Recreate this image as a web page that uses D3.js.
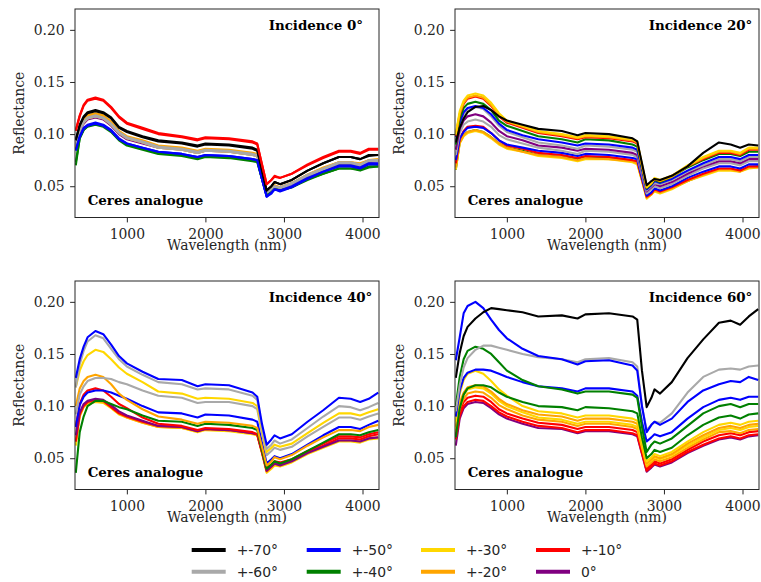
<!DOCTYPE html>
<html>
<head>
<meta charset="utf-8">
<script src="https://cdn.jsdelivr.net/npm/d3@7"></script>
<style>
  html, body { margin: 0; padding: 0; background: #ffffff; }
  svg { display: block; }
</style>
</head>
<body>
<div id="chart"></div>
<script>
// Wavelength grid (nm) shared by every spectrum
const wavelengths = [350, 400, 450, 500, 600, 700, 800, 900, 1000, 1200,
  1400, 1700, 1900, 2000, 2300, 2600, 2660, 2720, 2780, 2840,
  2880, 2950, 3100, 3300, 3500, 3700, 3850, 3970, 4080, 4200];

// Emission angle groups and their colours
const emissionLabels = ["+-70°", "+-60°", "+-50°", "+-40°", "+-30°", "+-20°", "+-10°", "0°"];
const emissionColors = ["#000000", "#a9a9a9", "#0000ff", "#008000", "#ffd700", "#ffa500", "#ff0000", "#800080"];

const panelTitles = ["Incidence 0°", "Incidence 20°", "Incidence 40°", "Incidence 60°"];
const sampleName = "Ceres analogue";
const xTicks = [1000, 2000, 3000, 4000];
const yTicks = [0.05, 0.10, 0.15, 0.20];

// Reflectance spectra, one [emission group, values] entry per curve, in drawing order
const incidence0 = [
  ["0°",    [0.086,0.102,0.110,0.114,0.116,0.114,0.108,0.100,0.095,0.091,0.087,0.085,0.082,0.084,0.083,0.080,0.079,0.060,0.042,0.046,0.049,0.048,0.052,0.060,0.066,0.071,0.071,0.070,0.073,0.074]],
  ["+-30°", [0.088,0.104,0.112,0.116,0.118,0.116,0.110,0.102,0.097,0.093,0.088,0.086,0.083,0.085,0.084,0.081,0.080,0.061,0.042,0.046,0.050,0.048,0.052,0.060,0.067,0.072,0.072,0.071,0.074,0.075]],
  ["+-30°", [0.087,0.103,0.111,0.115,0.117,0.115,0.109,0.101,0.096,0.092,0.087,0.085,0.082,0.084,0.083,0.080,0.079,0.060,0.042,0.046,0.049,0.048,0.052,0.060,0.066,0.071,0.071,0.070,0.074,0.074]],
  ["+-20°", [0.089,0.105,0.114,0.118,0.120,0.118,0.112,0.103,0.098,0.094,0.089,0.087,0.084,0.086,0.085,0.082,0.081,0.062,0.043,0.047,0.051,0.049,0.053,0.061,0.068,0.073,0.073,0.072,0.075,0.076]],
  ["+-20°", [0.088,0.104,0.113,0.117,0.119,0.117,0.111,0.102,0.097,0.093,0.088,0.086,0.083,0.085,0.084,0.081,0.080,0.062,0.043,0.047,0.050,0.049,0.053,0.061,0.067,0.073,0.073,0.071,0.075,0.075]],
  ["+-60°", [0.090,0.104,0.112,0.116,0.118,0.116,0.110,0.102,0.097,0.093,0.088,0.086,0.083,0.085,0.084,0.081,0.080,0.061,0.043,0.047,0.050,0.049,0.053,0.061,0.067,0.073,0.073,0.071,0.075,0.075]],
  ["+-60°", [0.089,0.103,0.111,0.115,0.117,0.115,0.109,0.101,0.096,0.092,0.087,0.085,0.082,0.084,0.083,0.080,0.079,0.061,0.043,0.047,0.050,0.048,0.052,0.060,0.066,0.072,0.072,0.070,0.074,0.074]],
  ["+-40°", [0.070,0.096,0.104,0.108,0.110,0.108,0.103,0.095,0.090,0.086,0.082,0.080,0.077,0.079,0.078,0.075,0.074,0.057,0.041,0.044,0.047,0.046,0.049,0.057,0.062,0.067,0.067,0.066,0.069,0.069]],
  ["+-40°", [0.073,0.096,0.104,0.107,0.109,0.107,0.102,0.094,0.089,0.085,0.081,0.079,0.076,0.078,0.077,0.074,0.073,0.057,0.041,0.044,0.047,0.046,0.049,0.056,0.062,0.067,0.067,0.065,0.068,0.069]],
  ["+-50°", [0.085,0.098,0.106,0.109,0.111,0.109,0.104,0.096,0.091,0.087,0.083,0.081,0.078,0.080,0.079,0.076,0.075,0.057,0.040,0.044,0.047,0.046,0.050,0.058,0.064,0.070,0.070,0.068,0.072,0.072]],
  ["+-50°", [0.084,0.097,0.105,0.108,0.110,0.108,0.103,0.095,0.091,0.087,0.083,0.081,0.078,0.080,0.079,0.076,0.075,0.057,0.040,0.043,0.047,0.045,0.049,0.057,0.064,0.069,0.069,0.067,0.071,0.071]],
  ["+-70°", [0.095,0.109,0.117,0.121,0.123,0.121,0.116,0.107,0.103,0.098,0.094,0.092,0.089,0.091,0.090,0.087,0.085,0.066,0.046,0.050,0.054,0.052,0.056,0.065,0.072,0.078,0.078,0.076,0.080,0.080]],
  ["+-70°", [0.094,0.108,0.116,0.120,0.122,0.120,0.115,0.106,0.102,0.097,0.093,0.091,0.088,0.090,0.089,0.086,0.084,0.065,0.046,0.050,0.054,0.052,0.056,0.065,0.072,0.078,0.078,0.076,0.079,0.080]],
  ["+-10°", [0.104,0.118,0.128,0.133,0.135,0.133,0.126,0.117,0.111,0.106,0.101,0.098,0.095,0.097,0.096,0.093,0.091,0.071,0.052,0.056,0.060,0.058,0.062,0.071,0.078,0.084,0.084,0.082,0.086,0.086]],
  ["+-10°", [0.103,0.117,0.127,0.132,0.134,0.132,0.125,0.116,0.110,0.105,0.100,0.097,0.094,0.096,0.095,0.092,0.090,0.071,0.052,0.056,0.059,0.058,0.062,0.070,0.077,0.083,0.083,0.081,0.085,0.085]]
];

const incidence20 = [
  ["+-40°", [0.066,0.092,0.099,0.102,0.104,0.102,0.097,0.091,0.087,0.084,0.080,0.078,0.076,0.078,0.077,0.074,0.073,0.056,0.040,0.043,0.046,0.045,0.048,0.055,0.061,0.066,0.066,0.065,0.068,0.069]],
  ["+-30°", [0.066,0.091,0.098,0.101,0.103,0.101,0.096,0.090,0.086,0.083,0.079,0.077,0.074,0.076,0.076,0.073,0.071,0.055,0.038,0.042,0.045,0.043,0.047,0.055,0.060,0.065,0.065,0.064,0.067,0.068]],
  ["+-20°", [0.068,0.092,0.099,0.102,0.104,0.102,0.097,0.091,0.087,0.083,0.080,0.078,0.075,0.077,0.076,0.074,0.072,0.056,0.039,0.042,0.046,0.044,0.048,0.055,0.061,0.066,0.066,0.064,0.068,0.068]],
  ["+-10°", [0.072,0.095,0.103,0.107,0.108,0.107,0.101,0.094,0.089,0.086,0.082,0.080,0.077,0.079,0.078,0.075,0.074,0.057,0.040,0.043,0.047,0.045,0.049,0.056,0.062,0.067,0.067,0.065,0.069,0.069]],
  ["+-50°", [0.075,0.096,0.102,0.106,0.107,0.106,0.101,0.094,0.090,0.087,0.084,0.082,0.079,0.081,0.080,0.077,0.076,0.058,0.041,0.044,0.048,0.046,0.050,0.058,0.064,0.069,0.069,0.067,0.071,0.071]],
  ["+-60°", [0.080,0.101,0.109,0.112,0.114,0.112,0.107,0.099,0.095,0.091,0.087,0.084,0.081,0.084,0.083,0.080,0.078,0.061,0.043,0.047,0.050,0.048,0.052,0.060,0.067,0.072,0.072,0.070,0.074,0.074]],
  ["0°",    [0.085,0.105,0.113,0.117,0.119,0.117,0.111,0.103,0.098,0.094,0.089,0.087,0.084,0.086,0.085,0.082,0.080,0.063,0.045,0.049,0.052,0.050,0.054,0.062,0.069,0.074,0.074,0.072,0.076,0.076]],
  ["+-60°", [0.094,0.110,0.119,0.124,0.126,0.124,0.117,0.108,0.102,0.097,0.092,0.089,0.086,0.089,0.088,0.085,0.083,0.064,0.046,0.050,0.053,0.052,0.056,0.064,0.070,0.076,0.076,0.074,0.078,0.078]],
  ["+-50°", [0.097,0.111,0.121,0.125,0.127,0.125,0.119,0.110,0.104,0.099,0.095,0.092,0.089,0.091,0.090,0.087,0.085,0.066,0.047,0.051,0.055,0.053,0.057,0.065,0.072,0.078,0.078,0.076,0.080,0.080]],
  ["+-40°", [0.090,0.115,0.125,0.129,0.131,0.129,0.123,0.113,0.108,0.103,0.098,0.095,0.092,0.095,0.094,0.090,0.088,0.068,0.048,0.052,0.056,0.054,0.059,0.068,0.075,0.081,0.081,0.079,0.083,0.083]],
  ["+-10°", [0.098,0.119,0.129,0.134,0.136,0.134,0.127,0.117,0.111,0.106,0.101,0.098,0.095,0.097,0.096,0.093,0.091,0.070,0.049,0.053,0.057,0.055,0.060,0.069,0.076,0.082,0.082,0.080,0.085,0.085]],
  ["+-20°", [0.099,0.120,0.130,0.135,0.137,0.135,0.128,0.118,0.112,0.107,0.102,0.099,0.096,0.098,0.097,0.094,0.092,0.070,0.049,0.053,0.057,0.055,0.059,0.069,0.077,0.083,0.083,0.081,0.086,0.086]],
  ["+-30°", [0.100,0.122,0.132,0.137,0.139,0.137,0.130,0.120,0.113,0.108,0.103,0.100,0.097,0.099,0.098,0.095,0.093,0.071,0.049,0.053,0.058,0.056,0.060,0.070,0.078,0.084,0.084,0.082,0.087,0.087]],
  ["+-70°", [0.092,0.106,0.115,0.121,0.126,0.127,0.123,0.117,0.113,0.109,0.105,0.103,0.099,0.101,0.100,0.096,0.093,0.072,0.051,0.055,0.057,0.056,0.060,0.069,0.082,0.092,0.090,0.087,0.090,0.089]]
];

const incidence40 = [
  ["+-30°", [0.062,0.090,0.099,0.102,0.104,0.103,0.098,0.092,0.089,0.084,0.080,0.079,0.075,0.077,0.076,0.073,0.072,0.055,0.036,0.040,0.043,0.042,0.046,0.054,0.060,0.066,0.066,0.065,0.068,0.069]],
  ["+-20°", [0.066,0.091,0.100,0.103,0.105,0.104,0.099,0.093,0.089,0.084,0.080,0.079,0.076,0.078,0.077,0.074,0.072,0.055,0.037,0.041,0.044,0.043,0.047,0.055,0.061,0.067,0.067,0.066,0.069,0.070]],
  ["+-10°", [0.066,0.092,0.100,0.104,0.106,0.105,0.099,0.093,0.090,0.085,0.081,0.080,0.076,0.078,0.077,0.074,0.073,0.056,0.038,0.042,0.045,0.044,0.048,0.056,0.062,0.069,0.069,0.068,0.071,0.073]],
  ["0°",    [0.072,0.094,0.102,0.105,0.107,0.106,0.101,0.095,0.091,0.086,0.081,0.080,0.076,0.078,0.077,0.074,0.073,0.056,0.038,0.042,0.045,0.043,0.047,0.055,0.061,0.067,0.067,0.066,0.069,0.070]],
  ["+-10°", [0.080,0.102,0.111,0.115,0.117,0.115,0.109,0.102,0.098,0.089,0.083,0.081,0.077,0.079,0.078,0.075,0.073,0.057,0.041,0.044,0.047,0.046,0.049,0.057,0.064,0.071,0.071,0.070,0.073,0.075]],
  ["+-40°", [0.036,0.075,0.090,0.100,0.105,0.105,0.102,0.099,0.097,0.091,0.086,0.085,0.081,0.083,0.082,0.079,0.077,0.058,0.040,0.044,0.047,0.045,0.049,0.057,0.065,0.073,0.073,0.072,0.075,0.077]],
  ["+-50°", [0.080,0.101,0.109,0.113,0.115,0.115,0.113,0.110,0.107,0.100,0.094,0.093,0.089,0.092,0.091,0.087,0.085,0.065,0.045,0.049,0.052,0.050,0.054,0.063,0.072,0.080,0.080,0.078,0.082,0.086]],
  ["+-20°", [0.100,0.117,0.124,0.128,0.130,0.128,0.121,0.112,0.106,0.097,0.090,0.087,0.083,0.085,0.084,0.081,0.079,0.061,0.043,0.047,0.051,0.049,0.053,0.062,0.070,0.077,0.077,0.076,0.080,0.082]],
  ["+-60°", [0.092,0.111,0.119,0.124,0.127,0.127,0.126,0.123,0.121,0.115,0.110,0.108,0.103,0.104,0.104,0.100,0.097,0.074,0.053,0.057,0.060,0.058,0.061,0.071,0.080,0.089,0.089,0.087,0.090,0.093]],
  ["+-30°", [0.118,0.134,0.143,0.149,0.154,0.152,0.145,0.137,0.131,0.123,0.114,0.112,0.107,0.108,0.107,0.103,0.100,0.077,0.056,0.060,0.063,0.061,0.064,0.074,0.084,0.093,0.093,0.091,0.094,0.097]],
  ["+-60°", [0.118,0.140,0.153,0.162,0.168,0.165,0.155,0.145,0.138,0.130,0.123,0.121,0.116,0.117,0.116,0.110,0.106,0.080,0.059,0.063,0.067,0.064,0.068,0.079,0.090,0.100,0.099,0.096,0.099,0.103]],
  ["+-50°", [0.127,0.145,0.157,0.166,0.172,0.169,0.159,0.148,0.141,0.133,0.126,0.125,0.119,0.121,0.120,0.113,0.109,0.083,0.063,0.068,0.072,0.069,0.073,0.085,0.096,0.108,0.107,0.104,0.107,0.113]]
];

const incidence60 = [
  ["0°",    [0.062,0.088,0.098,0.102,0.104,0.103,0.098,0.092,0.088,0.083,0.079,0.078,0.074,0.076,0.076,0.073,0.071,0.054,0.037,0.041,0.044,0.042,0.046,0.055,0.062,0.068,0.070,0.068,0.071,0.072]],
  ["+-10°", [0.068,0.091,0.100,0.104,0.106,0.105,0.100,0.094,0.090,0.085,0.081,0.079,0.075,0.077,0.077,0.074,0.072,0.055,0.038,0.042,0.045,0.043,0.047,0.056,0.063,0.069,0.071,0.069,0.072,0.073]],
  ["+-10°", [0.072,0.095,0.104,0.108,0.110,0.109,0.104,0.097,0.093,0.088,0.084,0.082,0.078,0.080,0.080,0.077,0.075,0.058,0.040,0.044,0.047,0.045,0.049,0.058,0.066,0.072,0.074,0.072,0.075,0.076]],
  ["+-20°", [0.075,0.098,0.107,0.112,0.114,0.113,0.108,0.101,0.097,0.091,0.087,0.085,0.081,0.083,0.083,0.080,0.078,0.060,0.042,0.046,0.049,0.047,0.051,0.060,0.068,0.075,0.076,0.074,0.077,0.078]],
  ["+-30°", [0.078,0.101,0.111,0.116,0.118,0.117,0.112,0.105,0.100,0.094,0.089,0.087,0.083,0.085,0.085,0.082,0.080,0.062,0.044,0.048,0.051,0.049,0.053,0.062,0.070,0.077,0.079,0.077,0.080,0.081]],
  ["+-20°", [0.080,0.103,0.113,0.118,0.120,0.119,0.114,0.107,0.102,0.096,0.092,0.090,0.086,0.088,0.088,0.085,0.083,0.064,0.045,0.049,0.052,0.050,0.054,0.064,0.072,0.079,0.081,0.079,0.082,0.083]],
  ["+-30°", [0.085,0.112,0.125,0.131,0.134,0.131,0.124,0.116,0.110,0.100,0.095,0.093,0.089,0.091,0.091,0.088,0.086,0.066,0.047,0.051,0.054,0.052,0.056,0.066,0.075,0.082,0.084,0.082,0.085,0.086]],
  ["+-40°", [0.070,0.098,0.111,0.117,0.120,0.120,0.118,0.113,0.109,0.104,0.100,0.099,0.096,0.099,0.098,0.095,0.093,0.070,0.050,0.054,0.058,0.056,0.060,0.072,0.082,0.089,0.091,0.088,0.092,0.093]],
  ["+-50°", [0.090,0.115,0.127,0.132,0.135,0.135,0.134,0.131,0.128,0.123,0.119,0.117,0.114,0.117,0.117,0.114,0.110,0.085,0.066,0.070,0.073,0.071,0.075,0.088,0.099,0.106,0.108,0.106,0.109,0.109]],
  ["+-40°", [0.100,0.128,0.145,0.153,0.157,0.155,0.150,0.142,0.134,0.125,0.119,0.116,0.112,0.114,0.114,0.111,0.108,0.080,0.056,0.063,0.066,0.064,0.069,0.081,0.093,0.100,0.102,0.099,0.102,0.102]],
  ["+-60°", [0.095,0.120,0.137,0.146,0.154,0.158,0.158,0.156,0.154,0.150,0.147,0.145,0.142,0.145,0.146,0.142,0.138,0.100,0.077,0.082,0.085,0.084,0.093,0.113,0.128,0.135,0.136,0.135,0.138,0.139]],
  ["+-50°", [0.144,0.166,0.189,0.196,0.200,0.194,0.183,0.173,0.165,0.155,0.148,0.145,0.140,0.143,0.144,0.139,0.134,0.100,0.075,0.082,0.085,0.082,0.088,0.104,0.115,0.121,0.124,0.123,0.128,0.125]],
  ["+-70°", [0.127,0.151,0.167,0.176,0.184,0.190,0.194,0.193,0.192,0.190,0.186,0.187,0.184,0.188,0.189,0.186,0.183,0.134,0.099,0.108,0.116,0.112,0.123,0.146,0.164,0.180,0.182,0.178,0.186,0.193]]
];

const panels = [incidence0, incidence20, incidence40, incidence60];

// ---- layout ----
const W = 761, H = 582;
const panelLeft = [75, 455];
const panelTop = [9, 281];
const pw = 304, ph = 208.5;
const serif = "'DejaVu Serif', serif";
const sans = "'DejaVu Sans', sans-serif";
const fontSize = 13.9;
const inkColor = "#262626";

const svg = d3.select("#chart").append("svg")
  .attr("width", W).attr("height", H)
  .attr("viewBox", `0 0 ${W} ${H}`);

const x = d3.scaleLinear().domain([340, 4210]).range([0, pw]);
const y = d3.scaleLinear().domain([0.02, 0.22]).range([ph, 0]);
const colorOf = d3.scaleOrdinal().domain(emissionLabels).range(emissionColors);

const spectrumLine = d3.line()
  .x((d, i) => x(wavelengths[i]))
  .y(d => y(d));

svg.append("defs").append("clipPath").attr("id", "plot-clip")
  .append("rect").attr("x", 0).attr("y", 0).attr("width", pw).attr("height", ph);

panels.forEach((series, k) => {
  const left = panelLeft[k % 2];
  const top = panelTop[Math.floor(k / 2)];
  const g = svg.append("g").attr("transform", `translate(${left},${top})`);

  // spectra
  g.append("g").attr("clip-path", "url(#plot-clip)")
    .selectAll("path")
    .data(series)
    .join("path")
    .attr("d", d => spectrumLine(d[1]))
    .attr("fill", "none")
    .attr("stroke", d => colorOf(d[0]))
    .attr("stroke-width", 2.1)
    .attr("stroke-linejoin", "round")
    .attr("stroke-linecap", "butt");

  // axes
  const xAxis = g.append("g").attr("transform", `translate(0,${ph})`)
    .call(d3.axisBottom(x).tickValues(xTicks).tickSize(4.9).tickPadding(6.3).tickFormat(d3.format("d")));
  const yAxis = g.append("g")
    .call(d3.axisLeft(y).tickValues(yTicks).tickSize(4.9).tickPadding(5.5).tickFormat(d3.format(".2f")));
  [xAxis, yAxis].forEach(a => {
    a.select(".domain").remove();
    a.selectAll(".tick line").attr("stroke", inkColor).attr("stroke-width", 1);
    a.selectAll(".tick text").attr("fill", inkColor)
      .style("font-family", serif).style("font-size", fontSize + "px");
  });

  // frame
  g.append("rect")
    .attr("x", 0).attr("y", 0).attr("width", pw).attr("height", ph)
    .attr("fill", "none").attr("stroke", inkColor).attr("stroke-width", 1);

  // axis titles
  g.append("text")
    .attr("x", pw / 2).attr("y", ph + 32)
    .attr("text-anchor", "middle")
    .attr("fill", inkColor)
    .style("font-family", serif).style("font-size", fontSize + "px")
    .text("Wavelength (nm)");
  g.append("text")
    .attr("transform", `translate(${24 - left + (k % 2 ? 380 : 0)},${ph / 2}) rotate(-90)`)
    .attr("text-anchor", "middle")
    .attr("fill", inkColor)
    .style("font-family", serif).style("font-size", fontSize + "px")
    .text("Reflectance");

  // annotations
  g.append("text")
    .attr("x", 193.7).attr("y", 21.3)
    .attr("fill", "#000")
    .style("font-family", serif).style("font-size", "13.4px").style("font-weight", "bold")
    .text(panelTitles[k]);
  g.append("text")
    .attr("x", 12.7).attr("y", ph - 12.6)
    .attr("fill", "#000")
    .style("font-family", serif).style("font-size", "13.4px").style("font-weight", "bold")
    .text(sampleName);
});

// ---- legend: 4 columns x 2 rows ----
const legendCols = [191.7, 306.7, 421, 536];
const legendRows = [550, 571.7];
const legend = svg.append("g");
emissionLabels.forEach((lab, i) => {
  const cx = legendCols[Math.floor(i / 2)];
  const cy = legendRows[i % 2];
  const item = legend.append("g");
  item.append("line")
    .attr("x1", cx).attr("x2", cx + 34)
    .attr("y1", cy).attr("y2", cy)
    .attr("stroke", colorOf(lab)).attr("stroke-width", 4);
  item.append("text")
    .attr("x", cx + 45).attr("y", cy + 5)
    .attr("fill", inkColor)
    .style("font-family", sans).style("font-size", fontSize + "px")
    .text(lab);
});
</script>
</body>
</html>
